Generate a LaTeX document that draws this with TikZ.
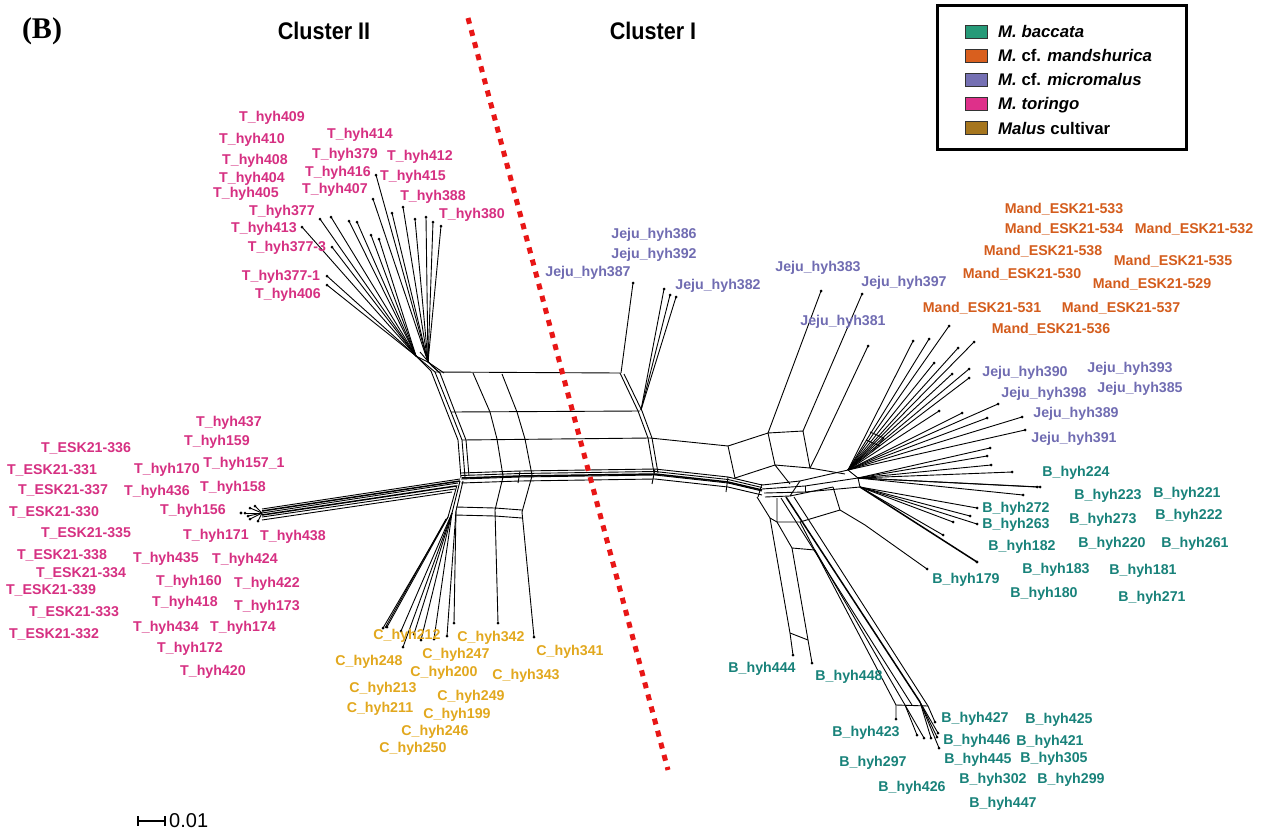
\documentclass[tikz,border=0pt]{standalone}
\usepackage{fontspec}
\setmainfont{Liberation Sans}
\newfontfamily\serifbold{Liberation Serif}
\definecolor{tcol}{RGB}{214,48,130}
\definecolor{ccol}{RGB}{226,168,30}
\definecolor{jcol}{RGB}{112,108,178}
\definecolor{mcol}{RGB}{212,92,28}
\definecolor{bcol}{RGB}{24,130,122}
\definecolor{sbac}{RGB}{38,154,120}
\definecolor{sman}{RGB}{217,95,30}
\definecolor{smic}{RGB}{117,112,179}
\definecolor{stor}{RGB}{222,48,138}
\definecolor{scul}{RGB}{166,118,30}
\definecolor{dotred}{RGB}{232,22,22}
\newcommand\fanto[2]{\foreach \x/\y in {#2}{\draw[net] (#1) -- (\x,\y); \fill (\x,\y) circle (1.5);}}
\begin{document}
\begin{tikzpicture}[x=1pt,y=-1pt,
  net/.style={line width=0.9pt,black},
  bund/.style={line width=1.5pt,black},
  lab/.style={font=\bfseries\fontsize{14.2}{16}\selectfont,inner sep=0pt,text height=10.2pt,text depth=0pt},
  leg/.style={font=\bfseries\fontsize{16.8}{19}\selectfont,inner sep=0pt,anchor=west,text height=12pt,text depth=0pt},
  swatch/.style={draw=black!80,line width=0.8pt}]
\useasboundingbox (0,0) rectangle (1275,836);
\fill[white] (0,0) rectangle (1275,836);

% ---------- titles ----------
\node[font=\serifbold\bfseries\fontsize{30}{32}\selectfont,inner sep=0pt] (panel) at (42,31) {(B)};
\node[font=\bfseries\fontsize{24}{26}\selectfont,inner sep=0pt] (c2) at (324,31) {\scalebox{0.9}[1]{Cluster II}};
\node[font=\bfseries\fontsize{24}{26}\selectfont,inner sep=0pt] (c1) at (653,31) {\scalebox{0.9}[1]{Cluster I}};

% ---------- legend ----------
\draw[line width=3pt] (937,5) rectangle (1186,149);
\draw[swatch,fill=sbac] (965,25) rectangle (987,38);
\draw[swatch,fill=sman] (965,49) rectangle (987,62);
\draw[swatch,fill=smic] (965,73) rectangle (987,86);
\draw[swatch,fill=stor] (965,97) rectangle (987,110);
\draw[swatch,fill=scul] (965,121) rectangle (987,134);
\node[leg] (l1) at (998,31) {\textit{M. baccata}};
\node[leg] (l2) at (998,55) {\textit{M.} cf. \textit{mandshurica}};
\node[leg] (l3) at (998,79) {\textit{M.} cf. \textit{micromalus}};
\node[leg] (l4) at (998,103) {\textit{M. toringo}};
\node[leg] (l5) at (998,128) {\textit{Malus} cultivar};

% ---------- network ----------
% top-left toringo fan
\coordinate (HA) at (416,356);
\coordinate (HB) at (428,362);
\fanto{HA}{302/227,320/219,331/217,349/221,357/222,332/247,327/276,327/285,371/235,379/239}
\fanto{HB}{373/199,376/175,392/213,403/207,415/219,426/217,433/222,441/226}
\draw[net] (HA)--(HB);
\draw[net] (HA)--(431,371); \draw[net] (HA)--(435,372);
\draw[net] (HB)--(440,373); \draw[net] (HB)--(444,373);
\draw[net] (420,352)--(432,366)--(440,373);
% left side of grid
\draw[net] (431,371)--(447,412)--(458,440)--(461,478);
\draw[net] (435,372)--(451,412)--(462,440)--(465,477);
\draw[net] (440,373)--(455,412)--(466,440)--(469,476);
% grid
\draw[net] (435,372)--(620,373);
\draw[net] (451,412)--(640,411);
\draw[net] (462,440)--(650,438)--(728,446);
\draw[net] (473,373)--(490,412)--(497,439)--(503,476);
\draw[net] (502,374)--(517,412)--(525,439)--(532,475);
\draw[net] (620,373)--(638,411)--(648,438)--(654,473);
\draw[net] (624,374)--(642,411)--(652,438)--(658,473);
% Jeju 387 / 382 group
\draw[net] (621,373)--(633,283); \fill (633,283) circle (1.5);
\coordinate (JH) at (641,410);
\fanto{JH}{664/289,670/295,676/297}
% main band
\foreach \d in {4,1.5,-2,-6}
  \draw[net,yshift=\d pt] (461,477)--(520,475)--(655,473)--(728,481)--(762,489);
\draw[bund] (462,478)--(520,476)--(655,474)--(728,482)--(762,490);
\draw[net] (655,469)--(652,484); \draw[net] (728,477)--(726,492);
\draw[net] (762,484)--(758,497); \draw[net] (520,471)--(518,483);
% band to right hub
\draw[net] (762,485)--(800,481)--(848,470);
\draw[net] (762,489)--(805,486)--(858,478);
\draw[net] (764,493)--(805,492)--(860,487);
\draw[net] (765,497)--(790,496)--(833,487);
\draw[net] (790,496)--(800,481); \draw[net] (805,492)--(805,486);
% right box structure
\draw[net] (728,446)--(768,433)--(775,465)--(735,478)--cycle;
\draw[net] (768,433)--(803,431)--(810,468)--(775,465);
\draw[net] (768,433)--(821,291); \fill (821,291) circle (1.5);
\draw[net] (803,431)--(862,294); \fill (862,294) circle (1.5);
\draw[net] (810,468)--(818,452)--(868,346); \fill (868,346) circle (1.5);
\draw[net] (810,468)--(845,474);
\draw[net] (775,465)--(790,484);
% upper right fan (Mand, Jeju, B)
\coordinate (H1) at (848,470);
\coordinate (H2) at (858,478);
\coordinate (H3) at (860,487);
\draw[net] (H1)--(H2)--(H3);
\fanto{H1}{913/341,929/339,949/326,958/348,974/342,934/363,952/374,969/369,969/378,939/411,962/413,987/418,998/404,1022/417,1025/430}
\fanto{H2}{990/448,987/456,991/465,1012/472,1040/487,1037/487,1023/495}
\fanto{H3}{977/508,970/516,977/524,953/522,943/535}
\draw[bund] (H3)--(977,562); \fill (977,562) circle (1.7);
\draw[net] (870,432)--(884,438)--(872,452); \draw[net] (866,440)--(880,446);
% lower baccata branch
\draw[net] (757,497)--(770,518)--(790,633)--(793,655); \fill (793,655) circle (1.5);
\draw[net] (777,498)--(777,522)--(792,548)--(812,663); \fill (812,663) circle (1.5);
\draw[net] (770,518)--(777,522);
\draw[net] (790,633)--(808,640);
\draw[net] (792,548)--(815,550);
\draw[net] (777,522)--(800,522)--(840,510)--(833,487);
\draw[net] (840,510)--(865,525)--(927,569); \fill (927,569) circle (1.5);
\draw[net] (800,522)--(896,705)--(896,719); \fill (896,719) circle (1.5);
\draw[net] (815,550)--(905,705);
\draw[bund] (786,497)--(920,702);
\draw[net] (794,497)--(928,706);
\draw[net] (781,498)--(912,705);
\draw[net] (896,705)--(928,706);
\coordinate (LB1) at (905,705);
\coordinate (LB2) at (920,702);
\coordinate (LB3) at (928,706);
\fanto{LB1}{917/735,924/738}
\fanto{LB2}{931/738,937/737,938/733,939/748}
\fanto{LB3}{935/722}
% cultivar fan
\draw[net] (460,481)--(452,513); \draw[net] (463,481)--(456,511); \draw[net] (457,485)--(448,517);
\coordinate (CH1) at (452,513);
\coordinate (CH2) at (456,511);
\coordinate (CH3) at (448,517);
\fanto{CH3}{383/628,387/627}
\draw[net] (446,519)--(385,628);
\fanto{CH1}{401/631,403/647,414/634,421/640,434/639}
\fanto{CH2}{447/636,454/623}
\draw[net] (503,477)--(495,510)--(498,623); \fill (498,623) circle (1.5);
\draw[net] (532,476)--(522,512)--(534,637); \fill (534,637) circle (1.5);
\draw[net] (456,507)--(495,508)--(522,510);
\draw[net] (455,515)--(495,516)--(522,518);
% left toringo band
\draw[net] (460,479)--(262,509);
\draw[bund] (460,481)--(262,511);
\draw[net] (458,483)--(262,513);
\draw[bund] (456,486)--(262,515);
\draw[net] (455,489)--(262,517);
\draw[net] (452,492)--(262,520);
\coordinate (TL) at (262,513);
\fanto{TL}{245/513,250/508,255/506,250/519,258/521,248/516}
\fill (241,513) circle (1.7);

% ---------- red divider ----------
\coordinate (rtop) at (468,18);
\coordinate (rbot) at (668,770);
\draw[dotred,line width=5pt,dash pattern=on 6pt off 6.5pt] (rtop)--(rbot);

% ---------- scale bar ----------
\coordinate (s1) at (138,821);
\coordinate (s2) at (165,821);
\draw[line width=2.5pt] (s1)--(s2);
\draw[line width=1.2pt] (138,816)--(138,826);
\draw[line width=1.2pt] (165,816)--(165,826);
\node[font=\fontsize{20}{22}\selectfont,inner sep=0pt,anchor=west] (scl) at (169,821) {0.01};

% ---------- labels: toringo ----------
\foreach \n/\x/\y in {409/272/116,410/252/138,408/255/159,404/252/177,405/246/192,377/282/210,413/264/227,377-3/287/246,377-1/281/275,406/288/293,414/360/133,379/345/153,416/338/171,407/335/188,412/420/155,415/413/175,388/433/195,380/472/213,
437/229/421,159/217/440,170/167/468,436/157/490,158/233/486,156/193/509,171/216/534,438/293/535,435/166/557,424/245/558,160/189/580,422/267/582,418/185/601,173/267/605,434/166/626,174/243/626,172/190/647,420/213/670}
  \node[lab,text=tcol] (T\n) at (\x,\y) {T\_hyh\n};
\node[lab,text=tcol] (T157b) at (244,462) {T\_hyh157\_1};
\foreach \n/\x/\y in {336/86/447,331/52/469,337/63/489,330/54/511,335/86/532,338/62/554,334/81/572,339/51/589,333/74/611,332/54/633}
  \node[lab,text=tcol] (TE\n) at (\x,\y) {T\_ESK21-\n};
% cultivar
\foreach \n/\x/\y in {212/407/634,248/369/660,247/456/653,342/491/636,341/570/650,200/444/671,343/526/674,213/383/687,249/471/695,211/380/707,199/457/713,246/435/730,250/413/747}
  \node[lab,text=ccol] (C\n) at (\x,\y) {C\_hyh\n};
% Jeju
\foreach \n/\x/\y in {386/654/233,392/654/253,387/588/271,382/718/284,383/818/266,397/904/281,381/843/320,390/1025/371,393/1130/367,398/1044/392,385/1140/387,389/1076/412,391/1074/437}
  \node[lab,text=jcol] (J\n) at (\x,\y) {Jeju\_hyh\n};
% Mand
\foreach \n/\x/\y in {533/1064/208,534/1064/228,532/1194/228,538/1043/250,535/1173/260,530/1022/273,529/1152/283,531/982/307,537/1121/307,536/1051/328}
  \node[lab,text=mcol] (M\n) at (\x,\y) {Mand\_ESK21-\n};
% baccata
\foreach \n/\x/\y in {224/1076/471,223/1108/494,221/1187/492,272/1016/507,263/1016/523,273/1103/518,222/1189/514,182/1022/545,220/1112/542,261/1195/542,183/1056/568,181/1143/569,179/966/578,180/1044/592,271/1152/596,444/762/667,448/849/675,427/975/717,425/1059/718,423/866/731,446/977/739,421/1050/740,445/978/758,305/1054/757,297/873/761,302/993/778,299/1071/778,426/912/786,447/1003/802}
  \node[lab,text=bcol] (B\n) at (\x,\y) {B\_hyh\n};
\end{tikzpicture}
\end{document}
